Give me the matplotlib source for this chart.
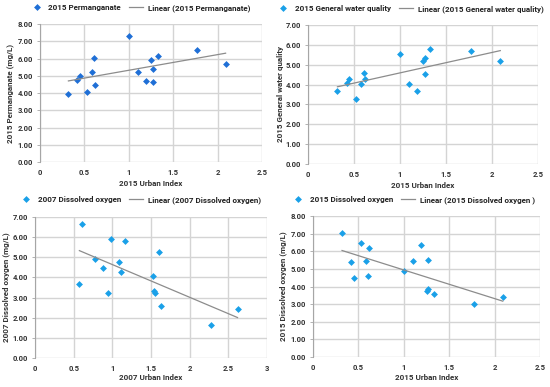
import matplotlib
matplotlib.use("Agg")
import matplotlib.pyplot as plt
import numpy as np

plt.rcParams['font.family'] = ['Roboto', 'DejaVu Sans']

# urban index of the 16 stations (2015)
ui_2015 = [0.32, 0.42, 0.45, 0.525, 0.58, 0.605, 0.615, 1.00,
           1.10, 1.19, 1.255, 1.27, 1.27, 1.33, 1.77, 2.09]
permanganate_2015 = [3.94, 4.78, 4.99, 4.07, 5.19, 6.02, 4.44, 7.31,
                     5.20, 4.68, 5.89, 5.42, 4.62, 6.14, 6.49, 5.71]
water_quality_2015 = [3.69, 4.09, 4.28, 3.27, 4.01, 4.60, 4.28, 5.54,
                      4.01, 3.69, 5.19, 5.35, 4.53, 5.79, 5.69, 5.19]
oxygen_2015 = [7.04, 5.37, 4.48, 6.47, 5.42, 4.60, 6.19, 4.88,
               5.44, 6.38, 3.75, 3.85, 5.50, 3.55, 3.00, 3.43]

ui_2007 = [0.613, 0.979, 1.165, 1.60, 0.776, 1.087, 0.884, 1.113,
           1.531, 0.574, 0.949, 1.536, 1.549, 1.626, 2.278, 2.619]
oxygen_2007 = [6.66, 5.91, 5.81, 5.28, 4.92, 4.77, 4.47, 4.25,
               4.07, 3.69, 3.22, 3.34, 3.22, 2.59, 1.66, 2.43]

W, H = 550, 387
fig = plt.figure(figsize=(W / 100, H / 100), dpi=100)

panels = [
    # x, y, series, y label, x label, y max, x max, marker colour,
    # plot box px (l, r, top, bottom), trend name, legend centre px, ylabel x px, xlabel y px
    (ui_2015, permanganate_2015, '2015 Permanganate', '2015 Permanganate (mg/L)',
     '2015 Urban Index', 8, 2.5, '#1f6fd6', (40, 262, 24, 162), '2015 Permanganate',
     (140, 8), 11, 183),
    (ui_2015, water_quality_2015, '2015 General water quality', '2015 General water quality',
     '2015 Urban Index', 7, 2.5, '#1aa0e8', (308, 538, 25, 164), '2015 General water quality',
     (410, 9), 280, 186),
    (ui_2007, oxygen_2007, '2007 Dissolved oxygen', '2007 Dissolved oxygen (mg/L)',
     '2007 Urban Index', 7, 3, '#1aa0e8', (35, 267, 217, 358), '2007 Dissolved oxygen',
     (140, 200), 6, 377),
    (ui_2015, oxygen_2015, '2015 Dissolved oxygen', '2015 Dissolved oxygen (mg/L)',
     '2015 Urban Index', 8, 2.5, '#1aa0e8', (313, 540, 216, 357), '2015 Dissolved oxygen ',
     (413, 200), 283, 377),
]

FS = 5.8    # labels and legend
TFS = 5.5   # tick labels
for (xs, ys, name, ylab, xlab, ymax, xmax, col, box, linname,
     legc, ylab_x, xlab_y) in panels:
    l, r, t, b = box
    ax = fig.add_axes([l / W, 1 - b / H, (r - l) / W, (b - t) / H])
    xs = np.array(xs)
    ys = np.array(ys)
    ax.plot(xs, ys, linestyle='none', marker='D', markersize=3.5, color=col,
            markeredgewidth=0, label=name)
    k, c = np.polyfit(xs, ys, 1)
    xl = np.array([xs.min(), xs.max()])
    ax.plot(xl, k * xl + c, color='#8c8c8c', lw=0.9, label=f'Linear ({linname})')

    ax.set_xlim(0, xmax)
    ax.set_ylim(0, ymax)
    xt = np.arange(0, xmax + 0.01, 0.5)
    ax.set_xticks(xt)
    ax.set_xticklabels([f'{v:g}' for v in xt])
    ax.set_yticks(np.arange(0, ymax + 0.01, 1))
    ax.set_yticklabels([f'{v:.2f}' for v in range(ymax + 1)])
    ax.grid(True, color='#d4d4d4', lw=1.0)
    ax.set_axisbelow(True)
    for s in ax.spines.values():
        s.set_visible(False)
    ax.spines['left'].set_visible(True)
    ax.spines['left'].set_color('#a6a6a6')
    ax.spines['left'].set_linewidth(0.8)
    ax.tick_params(axis='both', labelsize=TFS, colors='#404040', length=2.5, width=0.6,
                   pad=2.5)
    ax.tick_params(axis='x', length=0, pad=5)
    ax.tick_params(axis='y', color='#a6a6a6')
    for lab in ax.get_xticklabels() + ax.get_yticklabels():
        lab.set_fontweight('bold')
        lab.set_color('#333333')
    ax.set_xlabel(xlab, fontsize=FS, fontweight='bold', color='#333333')
    ax.set_ylabel(ylab, fontsize=FS, fontweight='bold', color='#333333')
    ax.yaxis.set_label_coords((ylab_x - l) / (r - l), 0.5)
    ax.xaxis.set_label_coords(0.5, (b - xlab_y) / (b - t))
    ax.xaxis.label.set_va('center')
    ax.yaxis.label.set_va('center')
    leg = ax.legend(loc='center', bbox_to_anchor=(legc[0] / W, 1 - legc[1] / H),
                    bbox_transform=fig.transFigure, ncol=2, frameon=False,
                    prop={'size': FS, 'weight': 'bold'}, handlelength=1.7,
                    columnspacing=1.0, handletextpad=0.6, borderaxespad=0, borderpad=0)
    for txt in leg.get_texts():
        txt.set_color('#222222')

fig.savefig('out.png', dpi=100, facecolor='white')
